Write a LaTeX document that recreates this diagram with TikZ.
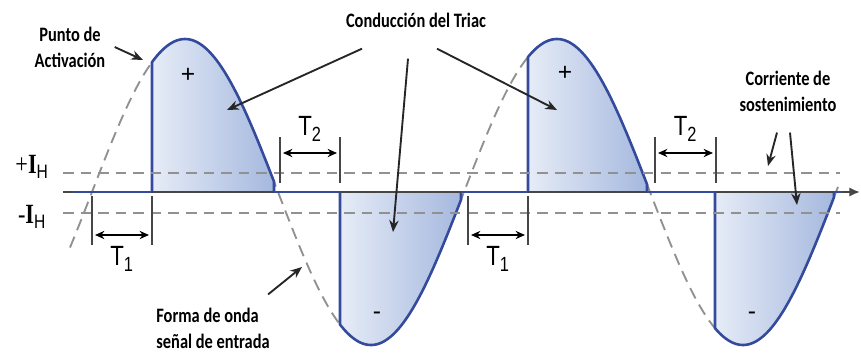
\documentclass[tikz,border=0pt]{standalone}
\usepackage{graphicx}
\usepackage{fontspec}
\setmainfont{Carlito}
\newfontfamily\arialfont{Liberation Sans}
\newfontfamily\timesfont{Liberation Serif}
\usetikzlibrary{arrows.meta, positioning, calc}

\definecolor{triacblue}{RGB}{52,74,156}
\definecolor{humpdark}{RGB}{165,184,222}
\definecolor{humplight}{RGB}{230,236,247}
\definecolor{axisgray}{RGB}{70,70,70}
\definecolor{wavegray}{RGB}{145,145,145}

\newcommand{\tall}[1]{\scalebox{1}[1.25]{#1}}

\begin{document}
\begin{tikzpicture}[
    x=0.03cm, y=-0.03cm,
    declare function={wy(\t)=192-153*sin((\t-92)/186*180);},
    label/.style={font=\fontsize{14}{22}\selectfont\bfseries, align=center, inner sep=1pt},
    tlabel/.style={font=\arialfont\fontsize{19}{20}\selectfont, inner sep=0pt},
    ihlabel/.style={font=\timesfont\fontsize{19}{20}\selectfont, inner sep=0pt},
    sign/.style={font=\arialfont\fontsize{21}{22}\selectfont, inner sep=0pt},
    arrow/.style={line width=1.6pt, draw=black!85, -{Stealth[length=10pt,width=8pt]}},
    dimarrow/.style={line width=1.6pt, {Stealth[length=8pt,width=7pt]}-{Stealth[length=8pt,width=7pt]}},
    bar/.style={line width=1.2pt, draw=axisgray},
    holdline/.style={wavegray, line width=1.7pt, dash pattern=on 9pt off 6pt},
    inputwave/.style={wavegray, line width=1.6pt, dash pattern=on 10pt off 6pt},
    hump/.style={draw=triacblue, line width=2.2pt, line join=round, left color=humplight, right color=humpdark},
    offline/.style={triacblue, line width=2.2pt}
]
\useasboundingbox (0,0) rectangle (861,354);

% Input wave
\draw[inputwave] plot[domain=70:838, samples=150, smooth] (\x,{wy(\x)});

% Conduction humps
\foreach \s/\e in {152/274, 340/461, 528/647, 715/834}
  \path[hump] (\s,192) -- (\s,{wy(\s)}) -- plot[domain=\s:\e, samples=60, smooth] (\x,{wy(\x)}) -- (\e,192);

% Holding current levels
\draw[holdline] (63,173) -- (840,173);
\draw[holdline] (63,213) -- (840,213);

% Axis
\draw[axisgray, line width=2.2pt, -{Latex[length=9pt,width=8pt]}] (63,192) -- (860,192);
\foreach \a/\b in {73/152, 274/340, 461/528, 647/715, 834/842}
  \draw[offline] (\a,192) -- (\b,192);

% T1 markers
\foreach \a/\b/\k in {92/152/a, 468/528/b} {
  \draw[bar] (\a,196) -- (\a,245);
  \draw[bar] (\b,196) -- (\b,245);
  \coordinate (t1L\k) at (\a+3,235);
  \coordinate (t1R\k) at (\b-3,235);
  \draw[dimarrow] (t1L\k) -- (t1R\k);
  \node[tlabel] (t1\k) at ({(\a+\b)/2},259) {\tall{T\textsubscript{\fontsize{14}{14}\selectfont 1}}};
}

% T2 markers
\foreach \a/\b/\k in {280/340/a, 655/716/b} {
  \draw[bar] (\a,137) -- (\a,183);
  \draw[bar] (\b,137) -- (\b,183);
  \coordinate (t2L\k) at (\a+3,153);
  \coordinate (t2R\k) at (\b-3,153);
  \draw[dimarrow] (t2L\k) -- (t2R\k);
  \node[tlabel] (t2\k) at ({(\a+\b)/2},129) {\tall{T\textsubscript{\fontsize{14}{14}\selectfont 2}}};
}

% Level labels and signs
\node[ihlabel] (ihp) at (32,167) {\tall{+\textbf{I}\textsubscript{\arialfont H}}};
\node[ihlabel] (ihm) at (32,217) {\tall{-\textbf{I}\textsubscript{\arialfont H}}};
\node[sign] (pos1) at (188,75) {+};
\node[sign] (pos2) at (565,73) {+};
\node[sign] (neg1) at (377,316) {-};
\node[sign] (neg2) at (752,316) {-};

% Nodes
\node[label] (punto) at (70,47) {\tall{Punto de}\\\tall{Activación}};
\node[label] (conduc) at (416,20) {\tall{Conducción del Triac}};
\node[label] (corr) at (788,91) {\tall{Corriente de}\\\tall{sostenimiento}};
\node[label, align=left, anchor=west] (forma) at (155,328) {\tall{Forma de onda}\\\tall{señal de entrada}};

\coordinate (puntoTip) at (143,60);
\coordinate (conducTipA) at (227,110);
\coordinate (conducTipB) at (393,232);
\coordinate (conducTipC) at (557,110);
\coordinate (corrTipA) at (768,166);
\coordinate (corrTipB) at (797,205);
\coordinate (formaTip) at (302,267);

% Arrows
\draw[arrow] ($(punto.east)+(8,0)$) -- (puntoTip);
\draw[arrow] ($(conduc.south)+(-54,20)$) -- (conducTipA);
\draw[arrow] ($(conduc.south)+(-8,30)$) -- (conducTipB);
\draw[arrow] ($(conduc.south)+(21,20)$) -- (conducTipC);
\draw[arrow] ($(corr.south)+(-11,20)$) -- (corrTipA);
\draw[arrow] ($(corr.south)+(2,20)$) -- (corrTipB);
\draw[arrow] ($(forma.north east)+(-3,-12)$) -- (formaTip);

\end{tikzpicture}
\end{document}
